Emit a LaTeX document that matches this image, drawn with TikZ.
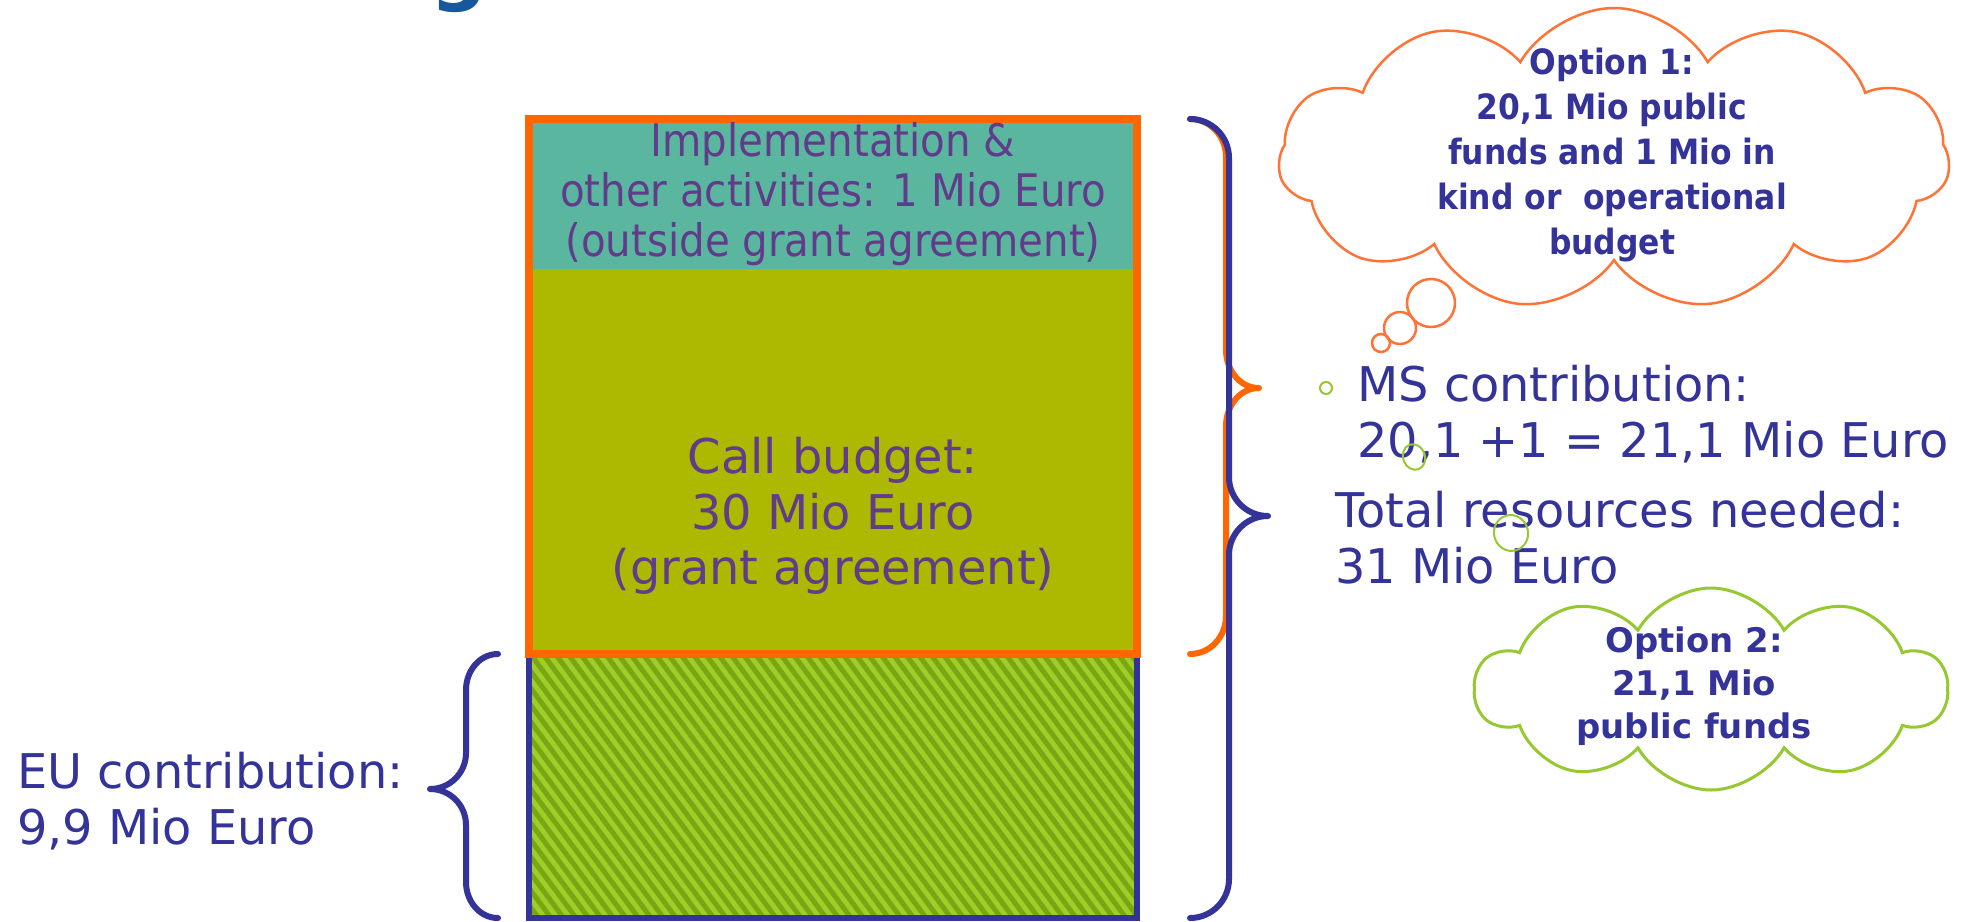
\documentclass[tikz,border=0pt]{standalone}
\usepackage{fontspec}
\setmainfont{DejaVu Sans}
\newfontfamily\condf{DejaVu Sans Condensed}
\usetikzlibrary{shapes.symbols}
\definecolor{tealc}{RGB}{91,182,160}
\definecolor{olivec}{RGB}{173,184,0}
\definecolor{hatchlight}{RGB}{160,206,40}
\definecolor{hatchdark}{RGB}{122,166,20}
\definecolor{orangec}{RGB}{255,102,0}
\definecolor{navyc}{RGB}{51,51,153}
\definecolor{boxtext}{RGB}{96,60,138}
\definecolor{cloudorange}{RGB}{255,115,55}
\definecolor{cloudgreen}{RGB}{150,200,50}
\definecolor{titleblue}{RGB}{22,88,155}
\tikzset{
  bigtext/.style={font=\fontsize{48}{56}\selectfont, inner sep=0pt},
  bracestroke/.style={line width=6bp, line cap=round, line join=round},
  puffs/.style={cloud, inner sep=0pt, line width=2.5bp},
}
\begin{document}
\begin{tikzpicture}[x=1bp,y=1bp]
\path[use as bounding box] (0,0) rectangle (1964,-922);
\clip (0,0) rectangle (1964,-922);
\fill[white] (0,0) rectangle (1964,-922);

% clipped title glyph
\node[anchor=base, inner sep=0pt, text=titleblue, font=\fontsize{80}{80}\selectfont\bfseries] (titleg) at (459,5) {g};

% main column
\fill[tealc] (529,-119) rectangle (1137,-269);
\fill[olivec] (529,-269) rectangle (1137,-654);
\begin{scope}
  \clip (529,-654) rectangle (1137,-918);
  \fill[hatchlight] (529,-654) rectangle (1137,-918);
  \foreach \i in {0,...,75} {
    \draw[hatchdark, line width=5bp] ({320+\i*12.5},-640) -- ++(215,-290);
  }
\end{scope}
\draw[navyc, line width=6bp] (529,-654) rectangle (1137,-918);
\draw[orangec, line width=8bp] (529,-119) rectangle (1137,-654);

\node[text=boxtext, align=center, inner sep=0pt, font=\condf\fontsize{45}{50}\selectfont] (impl) at (833,-194)
  {Implementation \&\\other activities: 1 Mio Euro\\(outside grant agreement)};
\node[bigtext, text=boxtext, align=center] (call) at (833,-516)
  {Call budget:\\30 Mio Euro\\(grant agreement)};

% left brace
\draw[navyc, bracestroke] (498,-654) to[out=180,in=90] (466,-690) -- (466,-753)
  to[out=-90,in=0] (430,-789) to[out=0,in=90] (466,-825) -- (466,-882)
  to[out=-90,in=180] (498,-918);
\node[bigtext, text=navyc, align=left, anchor=west] (eu) at (17,-801)
  {EU contribution:\\9,9 Mio Euro};

% right braces
\draw[orangec, bracestroke] (1190,-119) to[out=0,in=90] (1226,-157) -- (1226,-350)
  to[out=-90,in=180] (1259,-388) to[out=180,in=90] (1226,-426) -- (1226,-616)
  to[out=-90,in=0] (1190,-654);
\draw[navyc, bracestroke] (1190,-119) to[out=0,in=90] (1229,-158) -- (1229,-477)
  to[out=-90,in=180] (1268,-516) to[out=180,in=90] (1229,-555) -- (1229,-879)
  to[out=-90,in=0] (1190,-918);

% right texts
\draw[cloudgreen, line width=2bp] (1326,-388) circle (6);
\node[bigtext, text=navyc, align=left, anchor=west] (ms) at (1357,-414)
  {MS contribution:\\20,1 +1 = 21,1 Mio Euro};
\node[bigtext, text=navyc, align=left, anchor=west] (total) at (1335,-538)
  {Total resources needed:\\31 Mio Euro};
\draw[cloudgreen, line width=2bp, rotate around={20:(1414,-457)}] (1414,-457) ellipse (11 and 13);
\draw[cloudgreen, line width=2bp, rotate around={15:(1511,-533)}] (1511,-533) ellipse (17 and 18);

% option 1 cloud
\node[puffs, draw=cloudorange, cloud puffs=11, cloud puff arc=120, minimum width=671bp, minimum height=302bp] (cloudA) at (1614,-159) {};
\draw[cloudorange, line width=2.5bp] (1431,-303) circle (24);
\draw[cloudorange, line width=2.5bp] (1400,-328) circle (16);
\draw[cloudorange, line width=2.5bp] (1381,-343) circle (9);
\node[text=navyc, align=center, inner sep=0pt, font=\condf\bfseries\fontsize{35}{45}\selectfont] (opt1) at (1612,-155)
  {Option 1:\\20,1 Mio public\\funds and 1 Mio in\\kind or~ operational\\budget};

% option 2 cloud
\node[puffs, draw=cloudgreen, line width=3bp, cloud puffs=10, cloud puff arc=120, minimum width=472bp, minimum height=202bp] (cloudB) at (1711,-689) {};
\node[text=navyc, align=center, inner sep=0pt, font=\bfseries\fontsize{34}{43}\selectfont] (opt2) at (1694,-686)
  {Option 2:\\21,1 Mio\\public funds};
\end{tikzpicture}
\end{document}
